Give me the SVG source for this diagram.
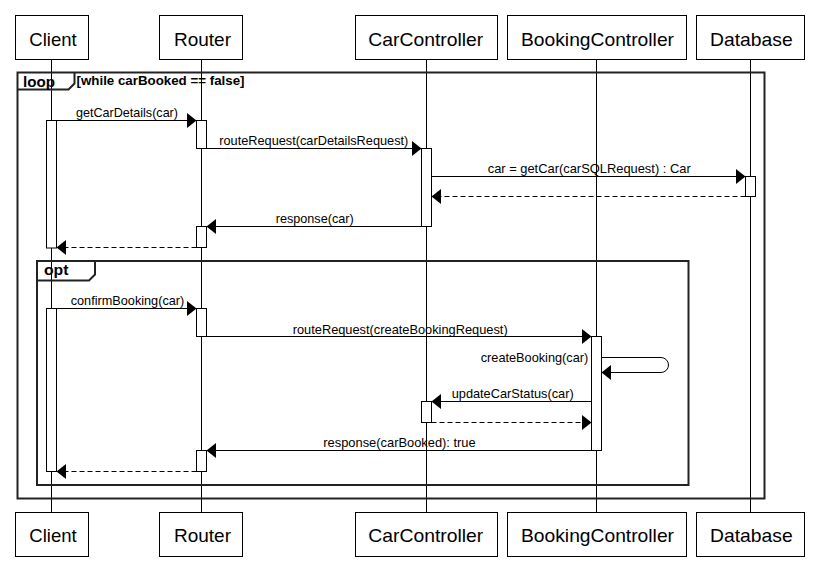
<svg xmlns="http://www.w3.org/2000/svg" width="819" height="580" viewBox="0 0 819 580">
<style>
.box{fill:#fff;stroke:#000;stroke-width:1}
.life{stroke:#000;stroke-width:1;fill:none}
.act{fill:#fff;stroke:#000;stroke-width:1}
.hdr{font-family:"Liberation Sans",Arial,sans-serif;font-size:19px;fill:#000}
.msg{font-family:"Liberation Sans",Arial,sans-serif;font-size:13px;fill:#000}
.frm{fill:none;stroke:#222;stroke-width:2}
.ftitle{font-family:"Liberation Sans",Arial,sans-serif;font-size:15px;font-weight:bold;fill:#000}
.fcond{font-family:"Liberation Sans",Arial,sans-serif;font-size:13px;font-weight:bold;fill:#000}
.ln{stroke:#000;stroke-width:1;fill:none;marker-end:url(#ah)}
.dash{stroke-dasharray:5,3}
</style>
<defs>
<marker id="ah" markerUnits="userSpaceOnUse" markerWidth="10" markerHeight="16" refX="9.5" refY="7.5" orient="auto">
<path d="M0,0 L9.5,7.5 L0,15 z" fill="#000"/>
</marker>
</defs>
<rect width="819" height="580" fill="#fff"/>

<g id="lifelines">
<line class="life" x1="51.5" y1="59.5" x2="51.5" y2="512.5"/>
<line class="life" x1="201.5" y1="59.5" x2="201.5" y2="512.5"/>
<line class="life" x1="426.5" y1="59.5" x2="426.5" y2="512.5"/>
<line class="life" x1="596.5" y1="59.5" x2="596.5" y2="512.5"/>
<line class="life" x1="750.5" y1="59.5" x2="750.5" y2="512.5"/>
</g>

<g id="frame-loop">
<rect class="frm" x="17.5" y="72.5" width="747" height="426"/>
<path class="frm" d="M17.5,89.5 H68.5 L74.5,83.5 V72.5"/>
<text class="ftitle" x="23" y="87" textLength="32" lengthAdjust="spacingAndGlyphs">loop</text>
<text class="fcond" x="76.5" y="84.5" textLength="168" lengthAdjust="spacingAndGlyphs">[while carBooked == false]</text>
</g>

<g id="frame-opt">
<rect class="frm" x="37" y="261" width="651.5" height="224"/>
<path class="frm" d="M37,280.5 H89 L95,274.5 V261"/>
<text class="ftitle" x="44" y="275" textLength="24.5" lengthAdjust="spacingAndGlyphs">opt</text>
</g>

<g id="Client">
<rect class="box" x="15.5" y="15.5" width="73" height="44"/>
<text class="hdr" x="29.3" y="45.5" textLength="47.4" lengthAdjust="spacingAndGlyphs">Client</text>
<rect class="box" x="15.5" y="512.5" width="73" height="44"/>
<text class="hdr" x="29.3" y="541.5" textLength="47.4" lengthAdjust="spacingAndGlyphs">Client</text>
<rect class="act" x="46.5" y="120.5" width="10" height="127.5"/>
<rect class="act" x="46.5" y="308.5" width="10" height="163"/>
</g>

<g id="Router">
<rect class="box" x="159.5" y="15.5" width="83" height="44"/>
<text class="hdr" x="174" y="45.5" textLength="57" lengthAdjust="spacingAndGlyphs">Router</text>
<rect class="box" x="159.5" y="512.5" width="83" height="44"/>
<text class="hdr" x="174" y="541.5" textLength="57" lengthAdjust="spacingAndGlyphs">Router</text>
<rect class="act" x="196.5" y="120.5" width="10" height="28"/>
<rect class="act" x="196.5" y="226.5" width="10" height="21"/>
<rect class="act" x="196.5" y="308.5" width="10" height="28"/>
<rect class="act" x="196.5" y="450.5" width="10" height="21"/>
</g>

<g id="CarController">
<rect class="box" x="355.5" y="15.5" width="142" height="44"/>
<text class="hdr" x="368.3" y="45.5" textLength="115" lengthAdjust="spacingAndGlyphs">CarController</text>
<rect class="box" x="355.5" y="512.5" width="142" height="44"/>
<text class="hdr" x="368.3" y="541.5" textLength="115" lengthAdjust="spacingAndGlyphs">CarController</text>
<rect class="act" x="421.5" y="148.5" width="10" height="78"/>
<rect class="act" x="421.5" y="401.5" width="10" height="21"/>
</g>

<g id="BookingController">
<rect class="box" x="507.5" y="15.5" width="179" height="44"/>
<text class="hdr" x="521" y="45.5" textLength="153" lengthAdjust="spacingAndGlyphs">BookingController</text>
<rect class="box" x="507.5" y="512.5" width="179" height="44"/>
<text class="hdr" x="521" y="541.5" textLength="153" lengthAdjust="spacingAndGlyphs">BookingController</text>
<rect class="act" x="591.5" y="336.5" width="10" height="114"/>
</g>

<g id="Database">
<rect class="box" x="696.5" y="15.5" width="108" height="44"/>
<text class="hdr" x="710" y="45.5" textLength="82.7" lengthAdjust="spacingAndGlyphs">Database</text>
<rect class="box" x="696.5" y="512.5" width="108" height="44"/>
<text class="hdr" x="710" y="541.5" textLength="82.7" lengthAdjust="spacingAndGlyphs">Database</text>
<rect class="act" x="745.5" y="176.5" width="10" height="20"/>
</g>

<g id="connectors">
<line class="ln" x1="56.5" y1="120.5" x2="196.5" y2="120.5"/>
<text class="msg" x="76" y="116.5" textLength="102" lengthAdjust="spacingAndGlyphs">getCarDetails(car)</text>
<line class="ln" x1="206.5" y1="148.5" x2="421.5" y2="148.5"/>
<text class="msg" x="219.3" y="145" textLength="189" lengthAdjust="spacingAndGlyphs">routeRequest(carDetailsRequest)</text>
<line class="ln" x1="431.5" y1="176.5" x2="745.5" y2="176.5"/>
<text class="msg" x="487.7" y="173" textLength="203" lengthAdjust="spacingAndGlyphs">car = getCar(carSQLRequest) : Car</text>
<line class="ln dash" x1="745.5" y1="196.5" x2="431.5" y2="196.5"/>
<line class="ln" x1="421.5" y1="226.5" x2="206.5" y2="226.5"/>
<text class="msg" x="275.7" y="222.5" textLength="78" lengthAdjust="spacingAndGlyphs">response(car)</text>
<line class="ln dash" x1="196.5" y1="247.5" x2="56.5" y2="247.5"/>
<line class="ln" x1="56.5" y1="308.5" x2="196.5" y2="308.5"/>
<text class="msg" x="70.7" y="305" textLength="113.6" lengthAdjust="spacingAndGlyphs">confirmBooking(car)</text>
<line class="ln" x1="206.5" y1="336.5" x2="591.5" y2="336.5"/>
<text class="msg" x="292.7" y="333.5" textLength="215" lengthAdjust="spacingAndGlyphs">routeRequest(createBookingRequest)</text>
<path class="ln" d="M601.5,357.5 H661 A7.5,7.5 0 0 1 661,372.5 H601.5"/>
<text class="msg" x="480.7" y="361.5" textLength="107.6" lengthAdjust="spacingAndGlyphs">createBooking(car)</text>
<line class="ln" x1="591.5" y1="401.5" x2="431.5" y2="401.5"/>
<text class="msg" x="451.7" y="397.5" textLength="122" lengthAdjust="spacingAndGlyphs">updateCarStatus(car)</text>
<line class="ln dash" x1="431.5" y1="422.5" x2="591.5" y2="422.5"/>
<line class="ln" x1="591.5" y1="450.5" x2="206.5" y2="450.5"/>
<text class="msg" x="323.3" y="447" textLength="152.4" lengthAdjust="spacingAndGlyphs">response(carBooked): true</text>
<line class="ln dash" x1="196.5" y1="471.5" x2="56.5" y2="471.5"/>
</g>
</svg>
